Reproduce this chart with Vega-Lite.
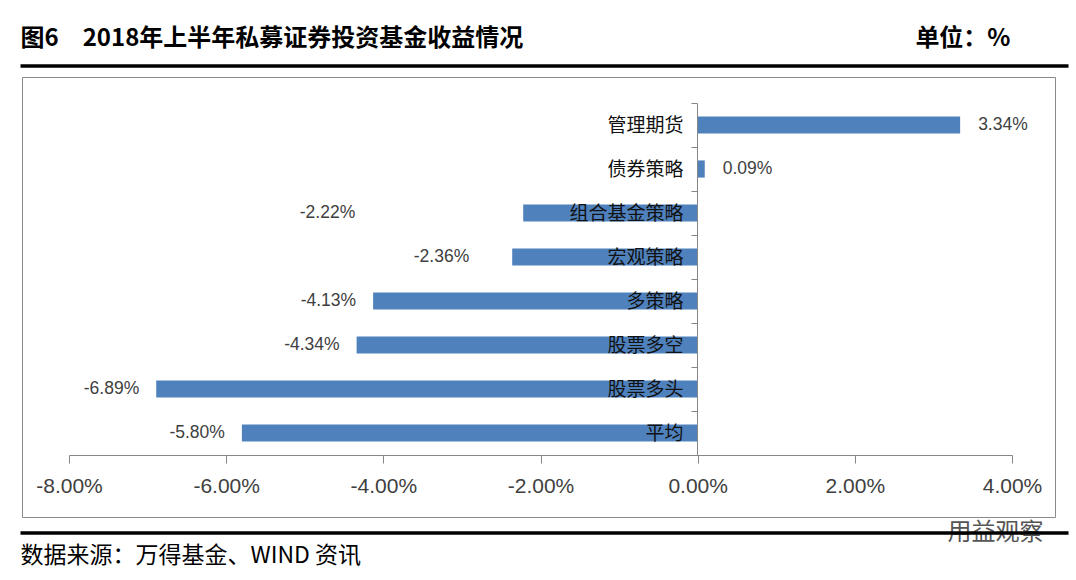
{
  "$schema": "https://vega.github.io/schema/vega-lite/v6.json",
  "width": 1033,
  "height": 440,
  "autosize": {"type": "none"},
  "padding": {"left": 22, "top": 77, "right": 21, "bottom": 63},
  "background": "white",
  "config": {
    "view": {"stroke": "#8a8a8a", "strokeWidth": 1},
    "locale": {"number": {"decimal": ".", "thousands": ",", "grouping": [3], "currency": ["", ""], "minus": "-"}},
    "axis": {"grid": false}
  },
  "data": {
    "values": [
      {"category": "管理期货", "value": 0.0334},
      {"category": "债券策略", "value": 0.0009},
      {"category": "组合基金策略", "value": -0.0222},
      {"category": "宏观策略", "value": -0.0236},
      {"category": "多策略", "value": -0.0413},
      {"category": "股票多空", "value": -0.0434},
      {"category": "股票多头", "value": -0.0689},
      {"category": "平均", "value": -0.058}
    ]
  },
  "layer": [
    {
      "encoding": {
        "y": {
          "field": "category",
          "type": "nominal",
          "sort": ["管理期货", "债券策略", "组合基金策略", "宏观策略", "多策略", "股票多空", "股票多头", "平均"],
          "scale": {"range": [26, 378], "paddingInner": 0, "paddingOuter": 0},
          "axis": {
            "orient": "left",
            "offset": -675,
            "title": null,
            "tickBand": "extent",
            "tickSize": 6,
            "tickColor": "#868686",
            "domainColor": "#868686",
            "labelPadding": 8,
            "labelFont": "Noto Sans CJK SC",
            "labelFontSize": 19,
            "labelColor": "#111111",
            "zindex": 1
          }
        },
        "x": {
          "field": "value",
          "type": "quantitative",
          "scale": {"domain": [-0.08, 0.04], "range": [47, 990], "nice": false},
          "axis": {
            "orient": "bottom",
            "offset": -62,
            "values": [-0.08, -0.06, -0.04, -0.02, 0, 0.02, 0.04],
            "format": ".2%",
            "title": null,
            "tickSize": 8,
            "tickColor": "#868686",
            "domainColor": "#868686",
            "labelPadding": 12,
            "labelFont": "Liberation Sans",
            "labelFontSize": 21,
            "labelColor": "#404040",
            "labelFlush": false,
            "labelOverlap": false,
            "grid": false
          }
        }
      },
      "layer": [
        {"mark": {"type": "bar", "color": "#4F81BD", "height": {"band": 0.39}}},
        {
          "transform": [{"filter": "datum.value > 0"}],
          "mark": {"type": "text", "align": "left", "baseline": "middle", "dx": 18, "font": "Liberation Sans", "fontSize": 17.5, "color": "#404040"},
          "encoding": {"text": {"field": "value", "type": "quantitative", "format": ".2%"}}
        },
        {
          "transform": [{"filter": "datum.value < 0 && datum.category !== '组合基金策略' && datum.category !== '宏观策略'"}],
          "mark": {"type": "text", "align": "right", "baseline": "middle", "dx": -17, "font": "Liberation Sans", "fontSize": 17.5, "color": "#404040"},
          "encoding": {"text": {"field": "value", "type": "quantitative", "format": ".2%"}}
        },
        {
          "transform": [{"filter": "datum.category === '组合基金策略'"}],
          "mark": {"type": "text", "align": "right", "baseline": "middle", "dx": -168, "font": "Liberation Sans", "fontSize": 17.5, "color": "#404040"},
          "encoding": {"text": {"field": "value", "type": "quantitative", "format": ".2%"}}
        },
        {
          "transform": [{"filter": "datum.category === '宏观策略'"}],
          "mark": {"type": "text", "align": "right", "baseline": "middle", "dx": -43, "font": "Liberation Sans", "fontSize": 17.5, "color": "#404040"},
          "encoding": {"text": {"field": "value", "type": "quantitative", "format": ".2%"}}
        }
      ]
    },
    {
      "mark": {"type": "point", "opacity": 0},
      "encoding": {
        "x": {
          "field": "value",
          "type": "quantitative",
          "scale": {"domain": [0, 1], "range": [-2, 1046], "nice": false},
          "axis": {
            "orient": "top",
            "offset": 11.5,
            "domainColor": "#000000",
            "domainWidth": 3.5,
            "ticks": false,
            "tickSize": 0,
            "grid": false,
            "values": [1],
            "labelExpr": "'单位：%'",
            "labelAlign": "right",
            "labelBaseline": "middle",
            "labelOffset": -58,
            "labelPadding": 27.5,
            "labelFlush": false,
            "labelFont": "Noto Sans CJK SC",
            "labelFontSize": 24,
            "labelFontWeight": "bold",
            "labelColor": "#000000",
            "title": "图6\u30002018年上半年私募证券投资基金收益情况",
            "titleX": -2,
            "titleY": -27.5,
            "titleAlign": "left",
            "titleAnchor": null,
            "titleBaseline": "middle",
            "titleFont": "Noto Sans CJK SC",
            "titleFontSize": 24,
            "titleFontWeight": "bold",
            "titleColor": "#000000"
          }
        }
      }
    },
    {
      "mark": {"type": "point", "opacity": 0},
      "encoding": {
        "x": {
          "field": "value",
          "type": "quantitative",
          "scale": {"domain": [0, 1], "range": [-2, 1046], "nice": false},
          "axis": {
            "orient": "bottom",
            "offset": 15.5,
            "domainColor": "#000000",
            "domainWidth": 3.5,
            "ticks": false,
            "tickSize": 0,
            "grid": false,
            "values": [1],
            "labelExpr": "'用益观察'",
            "labelAlign": "right",
            "labelBaseline": "middle",
            "labelOffset": -25,
            "labelPadding": 0,
            "labelFlush": false,
            "labelFont": "Noto Sans CJK SC",
            "labelFontSize": 24,
            "labelColor": "#555555",
            "title": "数据来源：万得基金、WIND 资讯",
            "titleX": -2,
            "titleY": 22.5,
            "titleAlign": "left",
            "titleAnchor": null,
            "titleBaseline": "middle",
            "titleFont": "Noto Sans CJK SC",
            "titleFontSize": 23,
            "titleFontWeight": "normal",
            "titleColor": "#000000"
          }
        }
      }
    }
  ],
  "resolve": {"scale": {"x": "independent"}, "axis": {"x": "independent"}}
}
